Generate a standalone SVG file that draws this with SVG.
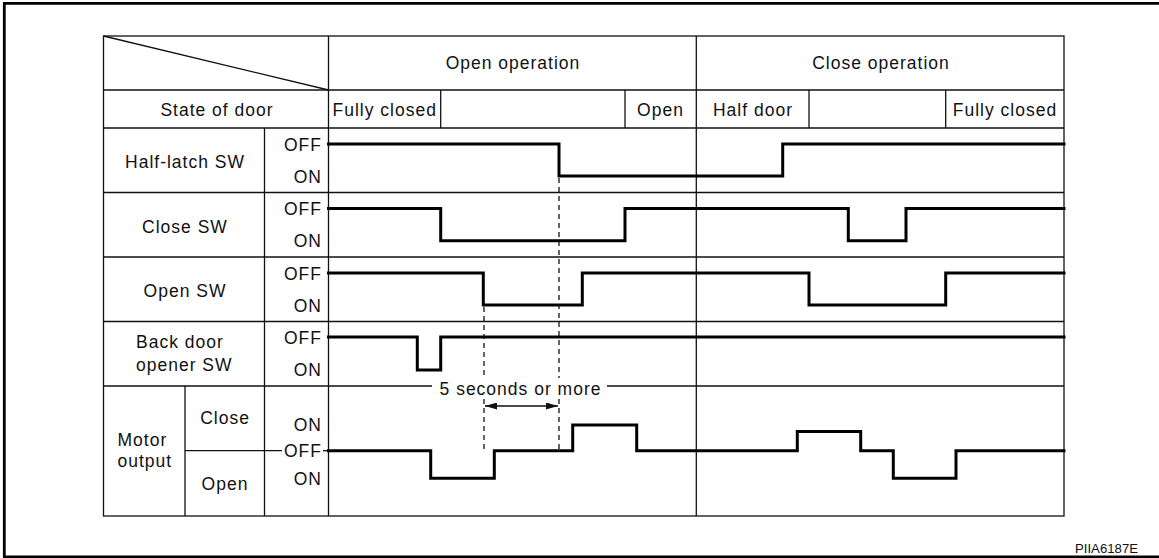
<svg xmlns="http://www.w3.org/2000/svg" width="1159" height="558" viewBox="0 0 1159 558">
<style>
  .t{font-family:"Liberation Sans",Arial,Helvetica,sans-serif;font-size:17.5px;letter-spacing:1px;fill:#111}
  .m{text-anchor:middle}
  .e{text-anchor:end}
  .g{stroke:#111;stroke-width:1.3;fill:none}
  .s{stroke:#000;stroke-width:3;fill:none;stroke-linejoin:miter;stroke-linecap:square}
  .d{stroke:#111;stroke-width:1.3;fill:none;stroke-dasharray:5 4}
</style>
<defs>
  <marker id="ah" viewBox="0 0 12 7" refX="12" refY="3.5" markerWidth="12" markerHeight="7" markerUnits="userSpaceOnUse" orient="auto-start-reverse">
    <path d="M0,0 L12,3.5 L0,7 Z" fill="#111"/>
  </marker>
</defs>
<rect width="1159" height="558" fill="#fff"/>
<path id="frame" d="M1162,3.3 H4.3 V556.8 H1162" fill="none" stroke="#000" stroke-width="2.8"/>

<g id="grid" class="g">
  <rect x="103.5" y="36" width="960.5" height="480"/>
  <line x1="103.5" y1="36" x2="328.5" y2="90"/>
  <line x1="103.5" y1="90" x2="1064" y2="90"/>
  <line x1="103.5" y1="128" x2="1064" y2="128"/>
  <line x1="103.5" y1="192.5" x2="1064" y2="192.5"/>
  <line x1="103.5" y1="257" x2="1064" y2="257"/>
  <line x1="103.5" y1="321.5" x2="1064" y2="321.5"/>
  <line x1="103.5" y1="386" x2="432" y2="386"/>
  <line x1="607" y1="386" x2="1064" y2="386"/>
  <line x1="328.5" y1="36" x2="328.5" y2="516"/>
  <line x1="696.3" y1="36" x2="696.3" y2="516"/>
  <line x1="264.5" y1="128" x2="264.5" y2="516"/>
  <line x1="185" y1="386" x2="185" y2="516"/>
  <line x1="440.7" y1="90" x2="440.7" y2="128"/>
  <line x1="625" y1="90" x2="625" y2="128"/>
  <line x1="809" y1="90" x2="809" y2="128"/>
  <line x1="945.7" y1="90" x2="945.7" y2="128"/>
  <line x1="185" y1="450.7" x2="282" y2="450.7"/>
  <line x1="323" y1="450.7" x2="328.5" y2="450.7"/>
</g>

<g id="header">
  <text class="t m" x="513" y="69">Open operation</text>
  <text class="t m" x="881" y="69">Close operation</text>
</g>

<g id="state-row">
  <text class="t m" x="217" y="115.5">State of door</text>
  <text class="t" x="332.5" y="115.5">Fully closed</text>
  <text class="t m" x="660.5" y="115.5">Open</text>
  <text class="t m" x="753" y="115.5">Half door</text>
  <text class="t m" x="1005" y="115.5">Fully closed</text>
</g>

<g id="half-latch-sw">
  <text class="t m" x="185" y="167.5">Half-latch SW</text>
  <text class="t e" x="322" y="151">OFF</text>
  <text class="t e" x="322" y="182.5">ON</text>
</g>
<g id="close-sw">
  <text class="t m" x="185" y="232.5">Close SW</text>
  <text class="t e" x="322" y="215">OFF</text>
  <text class="t e" x="322" y="246.7">ON</text>
</g>
<g id="open-sw">
  <text class="t m" x="185" y="297">Open SW</text>
  <text class="t e" x="322" y="279.5">OFF</text>
  <text class="t e" x="322" y="311.5">ON</text>
</g>
<g id="back-door-opener-sw">
  <text class="t" x="136" y="347.5">Back door</text>
  <text class="t" x="136" y="370.5">opener SW</text>
  <text class="t e" x="322" y="344">OFF</text>
  <text class="t e" x="322" y="376">ON</text>
</g>
<g id="motor-output">
  <text class="t" x="117.5" y="446">Motor</text>
  <text class="t" x="117.5" y="467">output</text>
  <text class="t m" x="225" y="424.3">Close</text>
  <text class="t m" x="225" y="490">Open</text>
  <text class="t e" x="322" y="431">ON</text>
  <text class="t e" x="322" y="457.3">OFF</text>
  <text class="t e" x="322" y="485">ON</text>
</g>

<g id="connectors">
  <path class="s" d="M328.5,144 H559 V176 H782.7 V144 H1064"/>
  <path class="s" d="M328.5,208.5 H440.7 V240.7 H625 V208.5 H848.3 V240.7 H906 V208.5 H1064"/>
  <path class="s" d="M328.5,273 H483.3 V305 H582.3 V273 H809 V305 H945.7 V273 H1064"/>
  <path class="s" d="M328.5,337 H417.3 V370 H440.7 V337 H1064"/>
  <path class="s" d="M328.5,450.7 H430.7 V478.3 H494.3 V450.7 H572.7 V425 H636.7 V450.7 H797.3 V431.5 H860.7 V450.7 H893.3 V478.3 H956 V450.7 H1064"/>
  <line class="d" x1="559" y1="178" x2="559" y2="378"/>
  <line class="d" x1="559" y1="399" x2="559" y2="450"/>
  <line class="d" x1="484" y1="307" x2="484" y2="378"/>
  <line class="d" x1="484" y1="399" x2="484" y2="450"/>
  <line x1="485" y1="406" x2="558" y2="406" stroke="#111" stroke-width="1.5" marker-start="url(#ah)" marker-end="url(#ah)"/>
</g>

<g id="annotation">
  <text class="t m" x="520.5" y="395">5 seconds or more</text>
  <text x="1075" y="553" font-family="'Liberation Sans',Arial,sans-serif" font-size="12" textLength="63" lengthAdjust="spacingAndGlyphs" fill="#111">PIIA6187E</text>
</g>
</svg>
